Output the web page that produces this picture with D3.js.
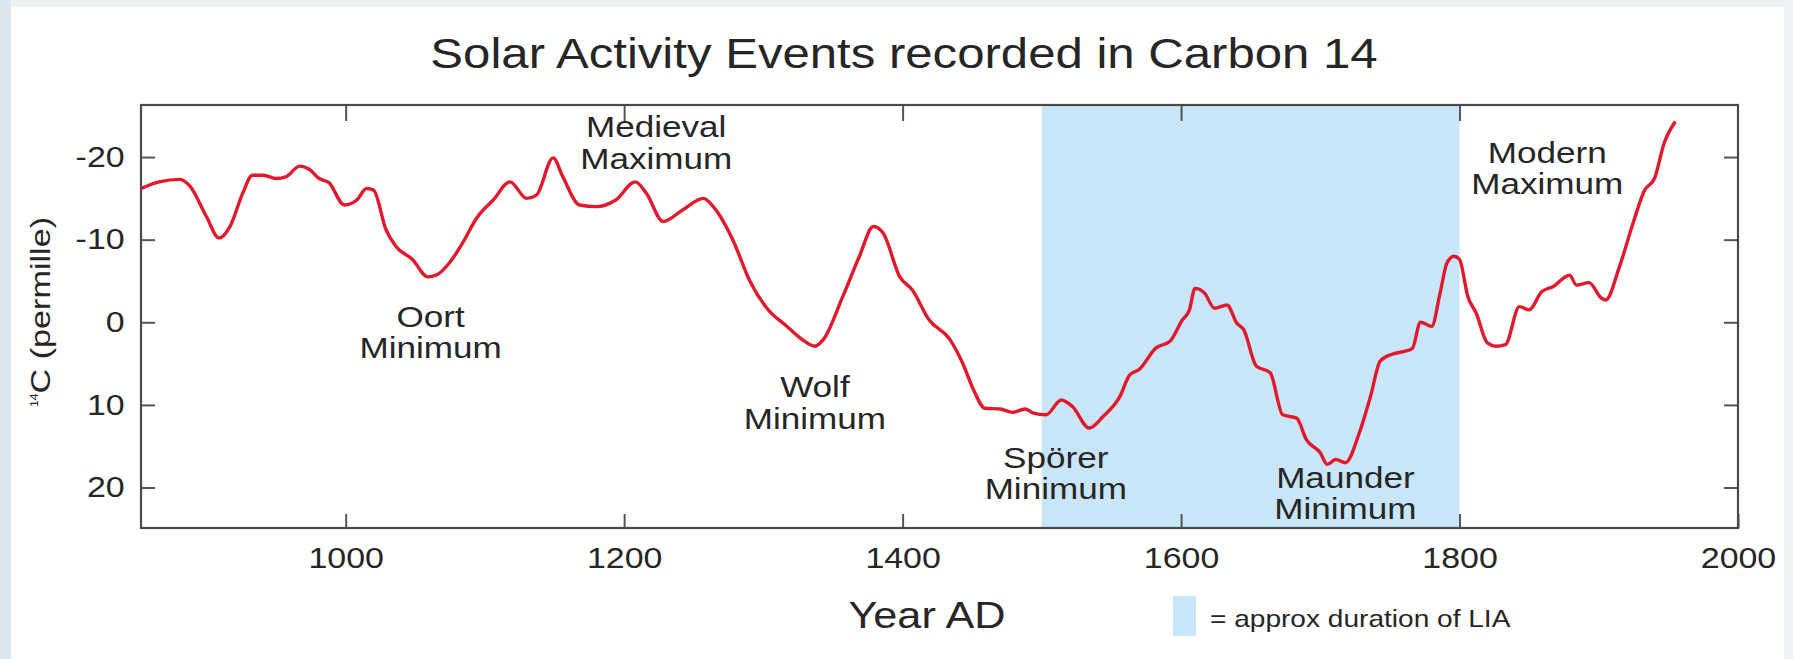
<!DOCTYPE html>
<meta charset="utf-8">
<title>Solar Activity Events recorded in Carbon 14</title>
<style>
body { margin: 0; background: #fff; }
svg text { font-family: "Liberation Sans", Arial, Helvetica, sans-serif; fill: #262626; }
.tick line { stroke: #555; stroke-width: 2; }
.tick text { font-size: 29px; fill: #262626; }
</style>
<body>
<svg width="1793" height="659"></svg>
<script src="https://cdn.jsdelivr.net/npm/d3@7"></script>
<script>

// 14C record (year AD, permille; negative = more solar activity)
var years = [853, 866, 881, 888, 900, 909, 917, 926, 933, 941, 950, 957, 967, 974, 981, 988, 999,
  1008, 1015, 1020, 1029, 1036, 1048, 1059, 1065, 1075, 1084, 1094, 1106, 1118, 1130, 1137, 1149,
  1156, 1168, 1180, 1194, 1208, 1216, 1228, 1242, 1257, 1264, 1278, 1290, 1303, 1317, 1328, 1337,
  1343, 1357, 1369, 1379, 1386, 1398, 1407, 1419, 1434, 1443, 1451, 1459, 1470, 1479, 1488, 1494,
  1503, 1514, 1522, 1534, 1544, 1556, 1563, 1570, 1582, 1592, 1601, 1606, 1610, 1617, 1624, 1633,
  1640, 1645, 1654, 1664, 1673, 1683, 1690, 1700, 1705, 1711, 1718, 1728, 1736, 1743, 1751, 1761,
  1766, 1772, 1780, 1786, 1791, 1796, 1800, 1806, 1812, 1820, 1826, 1833, 1843, 1850, 1859, 1867,
  1879, 1884, 1893, 1902, 1905, 1915, 1925, 1933, 1940, 1947, 1955];
var c14 = [-16.2, -17.0, -17.3, -16.5, -12.8, -10.2, -11.6, -15.6, -17.8, -17.8, -17.4, -17.6, -18.9, -18.5, -17.4, -16.9, -14.2,
  -14.8, -16.2, -16.0, -11.2, -9.2, -7.6, -5.5, -5.7, -7.3, -9.6, -12.6, -14.8, -17.0, -15.0, -15.4, -19.9,
  -17.6, -14.2, -14.0, -14.8, -17.0, -15.6, -12.2, -13.6, -15.0, -14.0, -10.0, -5.1, -1.6, 0.5, 2.1, 2.9,
  2.1, -3.1, -8.0, -11.6, -10.8, -5.5, -3.9, -0.3, 2.1, 4.9, 8.2, 10.4, 10.5, 10.9, 10.5, 11.0,
  11.2, 9.4, 10.2, 12.8, 11.4, 9.0, 6.4, 5.7, 3.1, 2.3, -0.3, -1.5, -4.1, -3.5, -1.7, -2.1,
  0.1, 0.9, 5.3, 6.1, 11.2, 11.6, 14.2, 15.8, 17.2, 16.6, 17.0, 13.4, 9.0, 4.7, 3.9, 3.5,
  3.2, 0.0, 0.5, -3.5, -7.2, -8.0, -7.6, -3.1, -1.1, 2.5, 2.9, 2.7, -1.9, -1.5, -3.7, -4.3,
  -5.7, -4.5, -4.8, -2.9, -2.7, -6.8, -12.2, -16.0, -17.4, -21.7, -24.3];

var xTicks = [1000, 1200, 1400, 1600, 1800, 2000];
var yTicks = [-20, -10, 0, 10, 20];
var yTickLabels = ["-20", "-10", "0", "10", "20"];

// Little Ice Age band
var lia = [1500, 1800];

// event labels, anchored at (year, value) of the first line's baseline centre
var eventLines = [["Oort", "Minimum"], ["Medieval", "Maximum"], ["Wolf", "Minimum"],
  ["Spörer", "Minimum"], ["Maunder", "Minimum"], ["Modern", "Maximum"]];
var eventYears = [1061, 1223, 1337, 1510, 1718, 1863];
var eventValues = [0.55, -22.4, 9.1, 17.6, 20.0, -19.3];

var svg = d3.select("svg");
var sx = 1.17; // the source picture is a little wider than tall

var pL = 141, pR = 1738, pT = 105, pB = 528;

var x = d3.scaleLinear().domain([853, 2000]).range([pL, pR]);
var y = d3.scaleLinear().domain([-26.3, 24.9]).range([pT, pB]);

// page border remnants
svg.append("rect").attr("x", 0).attr("y", 0).attr("width", 1793).attr("height", 7).attr("fill", "#eef2f6");
svg.append("rect").attr("x", 0).attr("y", 0).attr("width", 11).attr("height", 659).attr("fill", "#dbe6f0");
svg.append("rect").attr("x", 1784).attr("y", 0).attr("width", 9).attr("height", 659).attr("fill", "#edf2f6");

svg.append("clipPath").attr("id", "plot")
  .append("rect").attr("x", pL).attr("y", pT).attr("width", pR - pL).attr("height", pB - pT);

svg.append("rect")
  .attr("x", x(lia[0])).attr("y", pT)
  .attr("width", x(lia[1]) - x(lia[0])).attr("height", pB - pT)
  .attr("fill", "#c8e6f8");

// axes, ticks pointing inwards on all four sides
var gx = svg.append("g").attr("transform", "translate(0," + pB + ")")
  .call(d3.axisBottom(x).tickValues(xTicks).tickSizeInner(-14).tickSizeOuter(0).tickPadding(19).tickFormat(d3.format("d")));
svg.append("g").attr("transform", "translate(0," + pT + ")")
  .call(d3.axisTop(x).tickValues(xTicks.slice(0, 5)).tickSizeInner(-16).tickSizeOuter(0).tickFormat(""));
var gy = svg.append("g").attr("transform", "translate(" + pL + ",0)")
  .call(d3.axisLeft(y).tickValues(yTicks).tickSizeInner(-14).tickSizeOuter(0).tickPadding(14)
    .tickFormat(function(d, i) { return yTickLabels[i]; }));
svg.append("g").attr("transform", "translate(" + pR + ",0)")
  .call(d3.axisRight(y).tickValues(yTicks).tickSizeInner(-14).tickSizeOuter(0).tickFormat(""));

svg.selectAll(".domain").remove();
gx.selectAll("text").attr("transform", "scale(" + sx + ",1)");
gy.selectAll("text").attr("transform", "scale(" + sx + ",1)");

svg.append("rect")
  .attr("x", pL).attr("y", pT).attr("width", pR - pL).attr("height", pB - pT)
  .attr("fill", "none").attr("stroke", "#4a4a4a").attr("stroke-width", 2.2);

var line = d3.line()
  .x(function(d, i) { return x(years[i]); })
  .y(function(d) { return y(d); })
  .curve(d3.curveMonotoneX);

svg.append("path")
  .datum(c14)
  .attr("clip-path", "url(#plot)")
  .attr("fill", "none")
  .attr("stroke", "#e2192c")
  .attr("stroke-width", 3.4)
  .attr("stroke-linejoin", "round")
  .attr("d", line);

// event labels
eventLines.forEach(function(lines, i) {
  var g = svg.append("g")
    .attr("transform", "translate(" + x(eventYears[i]) + "," + y(eventValues[i]) + ") scale(" + sx + ",1)");
  lines.forEach(function(t, j) {
    g.append("text")
      .attr("y", j * 31.5)
      .attr("text-anchor", "middle")
      .attr("font-size", 30)
      .text(t);
  });
});

// title
svg.append("text")
  .attr("transform", "translate(904,68) scale(" + sx + ",1)")
  .attr("text-anchor", "middle")
  .attr("font-size", 42)
  .text("Solar Activity Events recorded in Carbon 14");

// x axis title
svg.append("text")
  .attr("transform", "translate(927,628) scale(" + sx + ",1)")
  .attr("text-anchor", "middle")
  .attr("font-size", 37)
  .text("Year AD");

// y axis title
var yl = svg.append("text")
  .attr("transform", "translate(50,312) rotate(-90)")
  .attr("text-anchor", "middle")
  .attr("font-size", 28)
  .attr("textLength", 190)
  .attr("lengthAdjust", "spacingAndGlyphs");
yl.append("tspan").attr("font-size", 10).attr("dy", -12).text("14");
yl.append("tspan").attr("dy", 12).text("C (permille)");

// legend
svg.append("rect").attr("x", 1173).attr("y", 596).attr("width", 23).attr("height", 40).attr("fill", "#c8e6f8");
svg.append("text")
  .attr("transform", "translate(1210,627) scale(" + sx + ",1)")
  .attr("font-size", 24)
  .text("= approx duration of LIA");

</script>
</body>
